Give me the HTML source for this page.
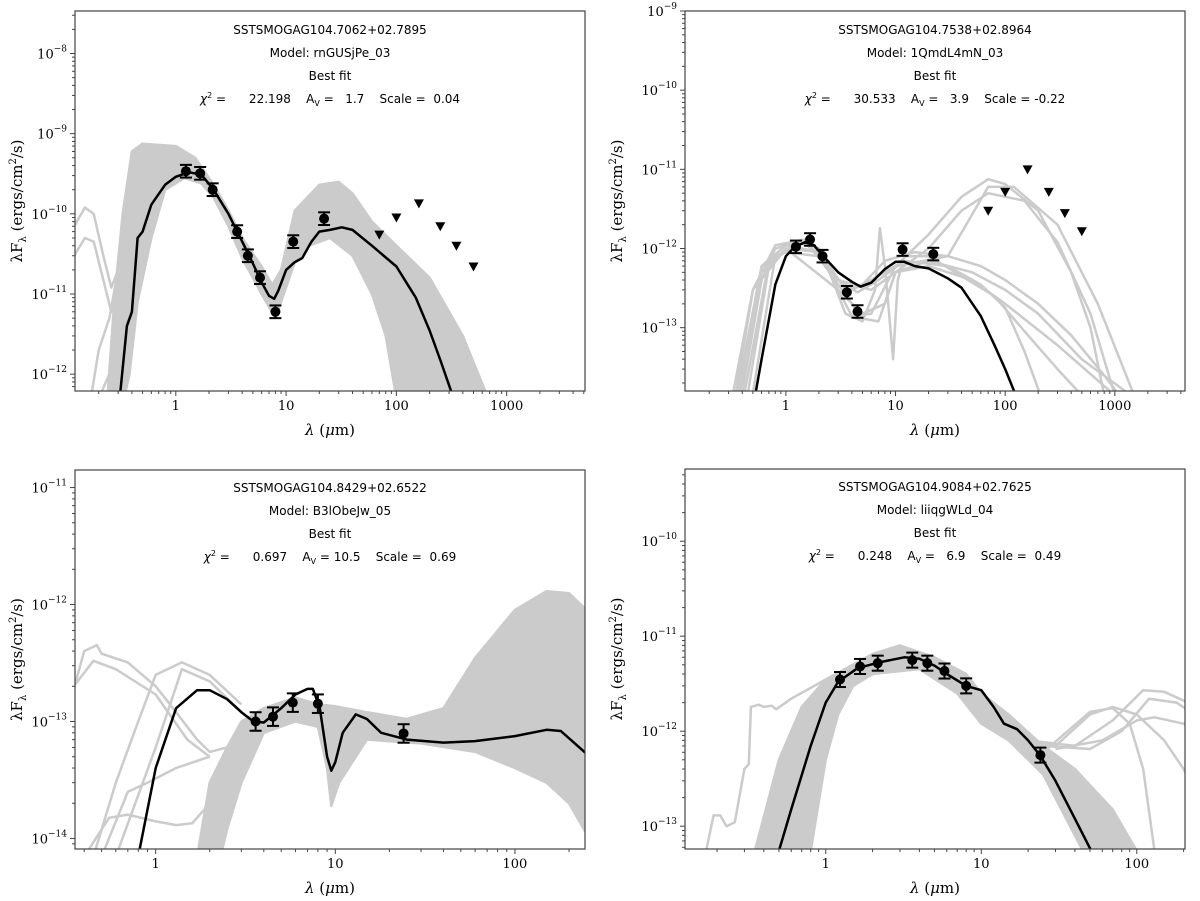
<!DOCTYPE html>
<html><head><meta charset="utf-8"><style>
body{margin:0;background:#fff;width:1200px;height:901px;overflow:hidden}
svg{display:block}
.t{font-family:"DejaVu Sans","Liberation Sans",sans-serif;font-size:12px;fill:#000}
.s{font-family:"DejaVu Serif","Liberation Serif",serif;fill:#000}
</style></head><body>
<svg id="fig" width="1200" height="901" xmlns="http://www.w3.org/2000/svg"></svg>
<script>
// ---------- Panel 1 data ----------
const p1Title=["SSTSMOGAG104.7062+02.7895","Model: rnGUSjPe_03","Best fit"];
const p1Stats=["22.198","1.7","0.04"];
const p1ObsX=[1.235,1.662,2.159,3.6,4.5,5.8,8.0,11.6,22.1];
const p1ObsY=[3.4e-10,3.2e-10,2.0e-10,6e-11,3e-11,1.6e-11,6e-12,4.5e-11,8.7e-11];
const p1LimX=[70,100,160,250,350,500];
const p1LimY=[5.5e-11,9e-11,1.35e-10,7e-11,4e-11,2.2e-11];
const p1Fit=[[0.31,5e-13],[0.36,4e-12],[0.4,6e-12],[0.45,5e-11],[0.5,6e-11],[0.6,1.3e-10],[0.8,2.3e-10],[1.0,2.9e-10],[1.3,3.3e-10],[1.7,3.1e-10],[2.2,2.0e-10],[3,1.0e-10],[4,4.5e-11],[5,2.4e-11],[6,1.4e-11],[7,9.5e-12],[7.8,8.7e-12],[8.5,1.1e-11],[10,2.0e-11],[12,2.5e-11],[14,2.8e-11],[17,4.5e-11],[20,6e-11],[25,6.3e-11],[32,6.8e-11],[40,6.3e-11],[60,4e-11],[100,2.2e-11],[150,9e-12],[200,3.5e-12],[250,1.5e-12],[330,5e-13]];
const p1BandUp=[[0.24,5e-13],[0.28,1e-11],[0.33,1e-10],[0.4,6e-10],[0.5,7.5e-10],[1,7e-10],[1.5,5e-10],[2.2,2.3e-10],[3,1.1e-10],[4,5e-11],[6,2.2e-11],[7.5,1.3e-11],[9,2e-11],[12,1.1e-10],[20,2.3e-10],[30,2.5e-10],[40,1.8e-10],[60,8e-11],[100,4e-11],[200,1.6e-11],[400,3e-12],[680,5e-13]];
const p1BandLo=[[100,5e-13],[80,3e-12],[60,1e-11],[40,3e-11],[25,5e-11],[16,4e-11],[12,2.5e-11],[9,8e-12],[8,5e-12],[6,1e-11],[4,2.8e-11],[3,7e-11],[2.2,1.6e-10],[1.7,2.4e-10],[1.2,2.8e-10],[0.8,2e-10],[0.6,5e-11],[0.45,8e-12],[0.38,1e-12],[0.34,5e-13]];
const p1Models=[
 [[0.12,7e-11],[0.15,1.2e-10],[0.18,1e-10],[0.22,3e-11],[0.26,1.2e-11],[0.3,2e-11],[0.4,1.5e-10],[0.5,4e-10]],
 [[0.12,3e-11],[0.15,5e-11],[0.18,4.5e-11],[0.22,1.5e-11],[0.26,6e-12],[0.3,1e-11],[0.4,1e-10],[0.5,3e-10]],
 [[0.17,5e-13],[0.2,2e-12],[0.25,5e-12],[0.3,2e-11],[0.4,2e-10]],
 [[0.2,5e-13],[0.25,1e-12],[0.3,8e-12],[0.4,8e-11]],
 [[30,2e-10],[60,4e-11],[100,3e-12],[120,5e-13]],
 [[40,1e-10],[100,3e-11],[200,1e-11],[400,2e-12],[600,5e-13]],
 [[40,7e-11],[100,2.5e-11],[200,8e-12],[350,2e-12],[500,5e-13]]];
// ---------- Panel 2 data ----------
const p2Title=["SSTSMOGAG104.7538+02.8964","Model: 1QmdL4mN_03","Best fit"];
const p2Stats=["30.533","3.9","-0.22"];
const p2ObsX=[1.235,1.662,2.159,3.6,4.5,11.6,22.1];
const p2ObsY=[1.05e-12,1.3e-12,8e-13,2.8e-13,1.6e-13,9.7e-13,8.5e-13];
const p2LimX=[70,100,160,250,350,500];
const p2LimY=[3e-12,5.2e-12,1.0e-11,5.2e-12,2.8e-12,1.65e-12];
const p2Fit=[[0.53,1.5e-14],[0.6,4e-14],[0.8,3.5e-13],[1.0,8e-13],[1.2,1.05e-12],[1.5,1.2e-12],[1.8,1.1e-12],[2.2,8e-13],[3,5e-13],[4,3.8e-13],[4.8,3.3e-13],[6,3.7e-13],[8,5.5e-13],[10,6.8e-13],[12,6.8e-13],[15,6e-13],[20,5.6e-13],[30,4.2e-13],[40,3.2e-13],[60,1.4e-13],[80,6e-14],[100,3e-14],[125,1.4e-14]];
const p2BandUp=[];
const p2BandLo=[];
const p2Models=[
 [[0.33,1.5e-14],[0.5,3e-13],[1,1e-12],[2,9e-13],[3,4e-13],[4,3e-13],[6,4e-13],[10,6e-13],[20,1.5e-12],[40,4.5e-12],[70,7.5e-12],[100,6.5e-12],[200,3e-12],[400,5e-13],[600,1e-13],[800,1.4e-14]],
 [[0.38,1.5e-14],[0.6,5e-13],[1,1e-12],[3,3e-13],[5,1.5e-13],[8,2e-13],[10,5e-13],[20,1e-12],[40,3e-12],[70,5e-12],[150,4e-12],[300,1.2e-12],[600,1.5e-13],[1000,1.4e-14]],
 [[0.4,1.5e-14],[0.6,4e-13],[0.8,1e-12],[1.5,1.3e-12],[2.5,6e-13],[3.5,3e-13],[5,3.5e-13],[8,7e-13],[15,9e-13],[30,8e-13],[60,6e-13],[100,4e-13],[200,2e-13],[400,8e-14],[800,2.5e-14],[1100,1.4e-14]],
 [[0.35,1.5e-14],[0.5,3e-13],[0.8,1.1e-12],[1.5,1.3e-12],[2.5,5e-13],[3.5,1.5e-13],[5,1.2e-13],[6.5,3e-13],[7.2,1.8e-12],[8,6e-13],[9.5,4e-14],[10.5,4e-13],[12,8e-13],[20,8e-13],[40,4.5e-13],[80,2.5e-13],[150,9e-14],[300,3e-14],[500,1.4e-14]],
 [[0.45,1.5e-14],[0.7,6e-13],[1.2,1.2e-12],[2,1e-12],[3,4e-13],[4.5,2.8e-13],[7,4e-13],[12,7e-13],[30,6e-13],[60,3.5e-13],[100,1.8e-13],[150,5e-14],[210,1.4e-14]],
 [[0.42,1.5e-14],[0.7,7e-13],[1,9e-13],[2,8e-13],[3,3.5e-13],[5,1.3e-13],[7,1.2e-13],[10,5e-13],[20,7e-13],[50,5e-13],[100,3e-13],[200,1.5e-13],[500,4e-14],[1400,1.4e-14]],
 [[0.36,1.5e-14],[0.6,6e-13],[1,1.1e-12],[2,9e-13],[3,3e-13],[4,1.4e-13],[6,1.5e-13],[10,6e-13],[30,8e-13],[70,6e-12],[120,6e-12],[300,2e-12],[700,2e-13],[1500,1.4e-14]],
 [[0.5,1.5e-14],[0.8,8e-13],[1.5,1.2e-12],[3,4e-13],[6,3e-13],[10,5e-13],[20,6e-13],[50,4e-13],[100,2e-13],[300,6e-14],[1000,1.4e-14]]];
// ---------- Panel 3 data ----------
const p3Title=["SSTSMOGAG104.8429+02.6522","Model: B3lObeJw_05","Best fit"];
const p3Stats=["0.697","10.5","0.69"];
const p3ObsX=[3.6,4.5,5.8,8.0,24];
const p3ObsY=[1.0e-13,1.1e-13,1.45e-13,1.42e-13,7.9e-14];
const p3LimX=[];
const p3LimY=[];
const p3Fit=[[0.8,7e-15],[1.0,4e-14],[1.3,1.3e-13],[1.7,1.85e-13],[2.0,1.85e-13],[2.5,1.55e-13],[3.0,1.2e-13],[3.5,1.0e-13],[4,9.8e-14],[5,1.3e-13],[6,1.7e-13],[7,1.9e-13],[7.5,1.9e-13],[8.2,1.3e-13],[9,5e-14],[9.5,3.8e-14],[10,4.5e-14],[11,8e-14],[13,1.15e-13],[15,1.05e-13],[18,8e-14],[25,7e-14],[40,6.6e-14],[60,6.8e-14],[100,7.5e-14],[150,8.5e-14],[180,8.3e-14],[250,5.3e-14]];
const p3BandUp=[[1.7,7e-15],[2,3e-14],[2.5,6e-14],[3,1.0e-13],[4,1.3e-13],[6,1.6e-13],[8,1.4e-13],[10,1.35e-13],[15,1.2e-13],[25,1.05e-13],[40,1.3e-13],[60,3.5e-13],[100,9e-13],[150,1.3e-12],[200,1.25e-12],[250,9e-13]];
const p3BandLo=[[250,1.1e-14],[200,2e-14],[150,3e-14],[100,4e-14],[60,5.5e-14],[30,6.5e-14],[15,7e-14],[10.5,3e-14],[9.5,1.9e-14],[9,4e-14],[8,9e-14],[6,1e-13],[4,8e-14],[3,3e-14],[2.5,1.2e-14],[2.3,7e-15]];
const p3Models=[
 [[0.35,1.9e-13],[0.4,4e-13],[0.47,4.5e-13],[0.5,3.8e-13],[0.7,3.2e-13],[1.0,2e-13],[1.3,1.2e-13],[1.7,7e-14],[2,5.5e-14],[2.5,6e-14]],
 [[0.35,2e-13],[0.45,3.3e-13],[0.6,2.8e-13],[1,1.7e-13],[1.5,7e-14],[2,5e-14]],
 [[0.45,7e-15],[0.6,3e-14],[0.8,1e-13],[1.0,2.5e-13],[1.4,3.2e-13],[2,2.5e-13],[3,1.4e-13]],
 [[0.4,7e-15],[0.55,1.5e-14],[0.7,1.6e-14],[1,1.4e-14],[1.3,1.3e-14],[1.6,1.35e-14],[2,2e-14]],
 [[0.5,7e-15],[0.7,2.5e-14],[0.9,3e-14],[1.3,4e-14],[2,5e-14]],
 [[0.6,7e-15],[1,6e-14],[1.4,2.8e-13],[2,2.2e-13],[3,1.2e-13]],
 [[40,1.1e-13],[80,4e-13],[150,5.5e-13],[250,3e-13]],
 [[40,9e-14],[80,1.8e-13],[150,2.2e-13],[250,1.1e-13]]];
// ---------- Panel 4 data ----------
const p4Title=["SSTSMOGAG104.9084+02.7625","Model: liiqgWLd_04","Best fit"];
const p4Stats=["0.248","6.9","0.49"];
const p4ObsX=[1.235,1.662,2.159,3.6,4.5,5.8,8.0,24];
const p4ObsY=[3.5e-12,4.8e-12,5.2e-12,5.6e-12,5.2e-12,4.3e-12,3.0e-12,5.6e-13];
const p4LimX=[];
const p4LimY=[];
const p4Fit=[[0.5,5.5e-14],[0.6,1.5e-13],[0.8,7e-13],[1.0,2e-12],[1.2,3.3e-12],[1.6,4.6e-12],[2.2,5.3e-12],[3.2,6e-12],[4,5.8e-12],[5,4.9e-12],[6,4e-12],[8,3.0e-12],[10,2.7e-12],[12,1.8e-12],[14,1.2e-12],[17,1.05e-12],[20,8e-13],[24,5.5e-13],[30,3e-13],[40,1.2e-13],[51,5.5e-14]];
const p4BandUp=[[0.35,5.5e-14],[0.5,5e-13],[0.7,1.8e-12],[1,3.5e-12],[2,6.5e-12],[3,8e-12],[5,6e-12],[8,4e-12],[10,2.5e-12],[15,1.5e-12],[25,7e-13],[40,4e-13],[70,1.5e-13],[100,5.5e-14]];
const p4BandLo=[[45,5.5e-14],[25,3.5e-13],[15,8e-13],[10,1.2e-12],[7,2.5e-12],[4,4.5e-12],[2,4e-12],[1.5,3e-12],[1.2,1.5e-12],[1,5e-13],[0.8,5.5e-14]];
const p4Models=[
 [[0.17,5.5e-14],[0.19,1.3e-13],[0.21,1.3e-13],[0.23,1e-13],[0.26,1.1e-13],[0.3,4e-13],[0.32,4.5e-13],[0.33,1.8e-12],[0.37,1.9e-12],[0.4,1.8e-12],[0.45,1.85e-12],[0.48,1.7e-12],[0.6,2.2e-12],[1,3.5e-12]],
 [[20,8e-13],[30,7e-13],[50,1.5e-12],[70,1.8e-12],[100,1.5e-12],[150,8e-13],[200,4e-13],[250,2e-13]],
 [[20,8e-13],[40,7e-13],[70,1.3e-12],[110,2.7e-12],[150,2.6e-12],[200,2.1e-12],[250,1.7e-12]],
 [[25,7e-13],[50,6.5e-13],[80,1e-12],[120,2.2e-12],[180,2e-12],[250,1.4e-12]],
 [[30,6.5e-13],[60,8e-13],[100,1.3e-12],[130,1.4e-12],[200,1.2e-12],[250,9e-13]],
 [[25,6e-13],[50,1.6e-12],[70,1.75e-12],[90,1.2e-12],[110,4e-13],[130,5.5e-14]],
 [[20,6e-13],[40,3e-13],[70,1.2e-13],[90,5.5e-14]],
 [[8,4e-12],[10,1.3e-12],[15,1e-12],[30,4e-13],[60,1.2e-13],[80,5.5e-14]]];

// layout (not data)
const panels=[
 {id:'p1',L:75,R:585,T:11,B:391,x0:-0.914,x1:3.71,y0:-12.21,y1:-7.47,xt:[0,1,2,3],xd:[-1,4],yt:[-12,-11,-10,-9,-8],lx:22,title:p1Title,stats:p1Stats,ox:p1ObsX,oy:p1ObsY,lmx:p1LimX,lmy:p1LimY,fit:p1Fit,bu:p1BandUp,bl:p1BandLo,mods:p1Models},
 {id:'p2',L:685,R:1185,T:11,B:391,x0:-0.92,x1:3.64,y0:-13.8,y1:-9,xt:[0,1,2,3],xd:[-1,4],yt:[-13,-12,-11,-10,-9],lx:622,title:p2Title,stats:p2Stats,ox:p2ObsX,oy:p2ObsY,lmx:p2LimX,lmy:p2LimY,fit:p2Fit,bu:p2BandUp,bl:p2BandLo,mods:p2Models},
 {id:'p3',L:75,R:585,T:470,B:849,x0:-0.449,x1:2.39,y0:-14.09,y1:-10.85,xt:[0,1,2],xd:[-1,3],yt:[-14,-13,-12,-11],lx:22,title:p3Title,stats:p3Stats,ox:p3ObsX,oy:p3ObsY,lmx:p3LimX,lmy:p3LimY,fit:p3Fit,bu:p3BandUp,bl:p3BandLo,mods:p3Models},
 {id:'p4',L:685,R:1185,T:469,B:849,x0:-0.905,x1:2.31,y0:-13.24,y1:-9.24,xt:[0,1,2],xd:[-1,3],yt:[-13,-12,-11,-10],lx:622,title:p4Title,stats:p4Stats,ox:p4ObsX,oy:p4ObsY,lmx:p4LimX,lmy:p4LimY,fit:p4Fit,bu:p4BandUp,bl:p4BandLo,mods:p4Models}
];
const NS='http://www.w3.org/2000/svg';
const svg=document.getElementById('fig');
function mk(tag,attrs,parent){const e=document.createElementNS(NS,tag);for(const k in attrs)e.setAttribute(k,attrs[k]);(parent||svg).appendChild(e);return e;}
const tickLabels={'-8':'−8','-9':'−9','-10':'−10','-11':'−11','-12':'−12','-13':'−13','-14':'−14'};
const xTickText={'0':'1','1':'10','2':'100','3':'1000'};

panels.forEach((p,pi)=>{
 const sx=v=>p.L+(Math.log10(v)-p.x0)/(p.x1-p.x0)*(p.R-p.L);
 const sy=v=>p.B-(Math.log10(v)-p.y0)/(p.y1-p.y0)*(p.B-p.T);
 const g=mk('g',{});
 
 
 const cp=mk('clipPath',{id:'clip'+pi},g);
 mk('rect',{x:p.L,y:p.T,width:p.R-p.L,height:p.B-p.T},cp);
 const plot=mk('g',{'clip-path':'url(#clip'+pi+')'},g);
 
 
 const pth=pts=>pts.map((q,i)=>(i?'L':'M')+sx(q[0]).toFixed(1)+','+sy(q[1]).toFixed(1)).join('');
 if(p.bu.length){
  const band=mk('path',{d:pth(p.bu.concat(p.bl))+'Z',fill:'#cbcbcb',stroke:'#cbcbcb','stroke-width':2.5,'stroke-linejoin':'round'},plot);
  
  
 }
 p.mods.forEach(m=>{
  const e=mk('path',{d:pth(m),fill:'none',stroke:'#cbcbcb','stroke-width':2.5,'stroke-linejoin':'round'},plot);
  
  
 });
 const fit=mk('path',{d:pth(p.fit),fill:'none',stroke:'#000','stroke-width':2.5,'stroke-linejoin':'round'},plot);
 
 
 p.ox.forEach((x,i)=>{
  const cx=sx(x),y=p.oy[i],yt=sy(y*1.2),yb=sy(y/1.2);
  const eg=mk('g',{},plot);
  
  
  mk('line',{x1:cx,x2:cx,y1:yt,y2:yb,stroke:'#000','stroke-width':2},eg);
  mk('line',{x1:cx-6,x2:cx+6,y1:yt,y2:yt,stroke:'#000','stroke-width':2},eg);
  mk('line',{x1:cx-6,x2:cx+6,y1:yb,y2:yb,stroke:'#000','stroke-width':2},eg);
  mk('circle',{cx:cx,cy:sy(y),r:5,fill:'#000'},eg);
 });
 p.lmx.forEach((x,i)=>{
  const cx=sx(x),cy=sy(p.lmy[i]);
  const t=mk('path',{d:`M${cx-5},${cy-4}L${cx+5},${cy-4}L${cx},${cy+5}Z`,fill:'#000'},plot);
  
  
 });
 const fr=mk('rect',{x:p.L,y:p.T,width:p.R-p.L,height:p.B-p.T,fill:'none',stroke:'#444','stroke-width':1.2},g);
 
 
 const xa=mk('g',{},g);
 
 
 for(let d=p.xd[0];d<=p.xd[1];d++){for(let k=1;k<10;k++){const v=k*Math.pow(10,d);const lv=Math.log10(v);if(lv<p.x0||lv>p.x1)continue;const X=sx(v);mk('line',{x1:X,x2:X,y1:p.B,y2:p.B+(k==1?5:3),stroke:'#444','stroke-width':1},xa);}}
 p.xt.forEach(d=>{const t=mk('text',{x:sx(Math.pow(10,d)),y:p.B+19,'text-anchor':'middle',class:'s','font-size':13},xa);t.textContent=xTickText[d];});
 const xl=mk('text',{x:(p.L+p.R)/2,y:p.B+44,'text-anchor':'middle',class:'s','font-size':15},g);
 xl.innerHTML='<tspan font-style="italic">λ</tspan> (<tspan font-style="italic">μ</tspan>m)';
 
 
 const ya=mk('g',{},g);
 
 
 for(let d=Math.floor(p.y0);d<=Math.ceil(p.y1);d++){for(let k=1;k<10;k++){const v=k*Math.pow(10,d);const lv=Math.log10(v);if(lv<p.y0-1e-6||lv>p.y1+1e-6)continue;const Y=sy(v);mk('line',{x1:p.L,x2:p.L-(k==1?5:3),y1:Y,y2:Y,stroke:'#444','stroke-width':1},ya);}}
 p.yt.forEach(d=>{const Y=sy(Math.pow(10,d));const t=mk('text',{x:p.L-8,y:Y+5,'text-anchor':'end',class:'s','font-size':13},ya);t.innerHTML='10<tspan dy="-7" font-size="9">'+tickLabels[d]+'</tspan>';});
 const yc=(p.T+p.B)/2;
 const yl=mk('text',{x:p.lx,y:yc,'text-anchor':'middle',class:'s','font-size':15,transform:`rotate(-90 ${p.lx} ${yc})`},g);
 yl.innerHTML='λF<tspan dy="4" font-size="10">λ</tspan><tspan dy="-4"> (ergs/cm</tspan><tspan dy="-6" font-size="10">2</tspan><tspan dy="6">/s)</tspan>';
 
 
 const cx=(p.L+p.R)/2, ty=p.T+(pi<2?19:18);
 const ann=mk('g',{},g);
 
 
 p.title.forEach((s,i)=>{const t=mk('text',{x:cx,y:ty+i*23+4,'text-anchor':'middle',class:'t'},ann);t.textContent=s;});
 const st=mk('text',{x:cx,y:ty+3*23+4,'text-anchor':'middle',class:'t'},ann);
 st.innerHTML='<tspan font-style="italic">χ</tspan><tspan dy="-5" font-size="8">2</tspan><tspan dy="5"> =      '+p.stats[0]+'    A</tspan><tspan dy="3" font-size="8">V</tspan><tspan dy="-3"> = '+(p.stats[1].length<4?'  ':'')+p.stats[1]+'    Scale = '+(p.stats[2][0]=='-'?'':' ')+p.stats[2]+'</tspan>';
 st.setAttribute('xml:space','preserve');
 st.style.whiteSpace='pre';
});
</script>
</body></html>
